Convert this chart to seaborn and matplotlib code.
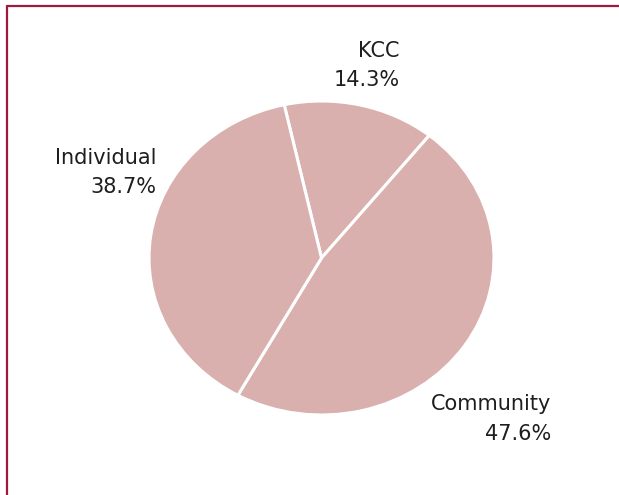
import matplotlib
matplotlib.use("Agg")
import matplotlib.pyplot as plt
import seaborn as sns
import numpy as np

sns.set_theme(style="white")
plt.rcParams['font.family'] = ['DejaVu Sans']

categories = ["KCC", "Community", "Individual"]
shares = [14.3, 47.6, 38.7]
label_texts = ["KCC\n14.3%", "Community\n47.6%", "Individual\n38.7%"]

slice_color = "#D9B0AD"
border_color = "#9E1A3E"

W, H = 619, 495
fig = plt.figure(figsize=(W / 100, H / 100), dpi=100)
ax = fig.add_axes([0, 0, 1, 1])

wedges, _ = ax.pie(shares, colors=[slice_color] * len(shares), startangle=102.5,
                   counterclock=False, radius=1.0,
                   wedgeprops=dict(edgecolor="white", linewidth=2.2))

cx, cy = 321.5, 495 - 258
rx, ry = 172.5, 157
ax.set_aspect('auto')
ax.set_xlim(-cx / rx, (W - cx) / rx)
ax.set_ylim(-cy / ry, (H - cy) / ry)
ax.axis('off')

# label anchors (right edge, vertical centre) in axis units
anchors = [(0.455, 1.225), (1.33, -1.025), (-0.955, 0.545)]
for (x, y), t in zip(anchors, label_texts):
    ax.text(x, y, t, ha="right", va="center", fontsize=15, color="#1E1E1E",
            linespacing=1.6)

# frame lines at top and left
fig.add_artist(plt.Line2D([7 / W, 7 / W], [0, 1 - 6 / H], transform=fig.transFigure,
                          color=border_color, linewidth=1.6))
fig.add_artist(plt.Line2D([7 / W, 1], [1 - 6 / H, 1 - 6 / H], transform=fig.transFigure,
                          color=border_color, linewidth=1.6))

fig.savefig("out.png", dpi=100, facecolor="white")
